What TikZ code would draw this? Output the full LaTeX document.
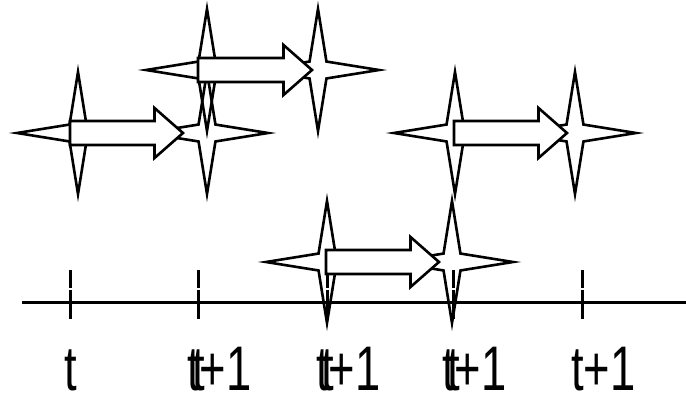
\documentclass[tikz,border=0pt]{standalone}
\usepackage{fontspec}
\setmainfont{Liberation Sans}
\usepackage{graphicx}
\usetikzlibrary{shapes.geometric,calc}
\tikzset{
  starshape/.style={star, star points=4, star point ratio=5.1, minimum size=122pt, inner sep=0pt, draw=black, line width=2.6pt},
  arrowshape/.style={draw=black, fill=white, line width=2.6pt, miter limit=20},
  axisline/.style={line width=3pt},
  tickline/.style={line width=3pt},
  lbl/.style={inner sep=0pt, font=\fontsize{63}{63}\selectfont},
}
\newcommand\blockarr[2]{%
  \draw[arrowshape] ($(#1)+(0,-12)$) -- ($(#2)+(-28.5,-12)$) -- ($(#2)+(-28.5,-25)$) -- (#2)
    -- ($(#2)+(-28.5,25)$) -- ($(#2)+(-28.5,12)$) -- ($(#1)+(0,12)$) -- cycle;}
\newcommand\lt[1]{\scalebox{0.72}[1]{#1}}
\begin{document}
\begin{tikzpicture}[x=1pt,y=-1pt]
\useasboundingbox (0,0) rectangle (686,392);
% axis
\coordinate (axl) at (22,302);
\coordinate (axr) at (686,302);
\draw[axisline] (axl) -- (axr);
% ticks
\foreach \n/\x in {1/70,2/198,3/327,4/453,5/582}{
  \coordinate (tk\n) at (\x,270);
  \draw[tickline] (tk\n) -- ++(0,18) ++(0,1.5) -- ++(0,29.5);
}
% labels
\node[lbl, anchor=base] (l1) at (71,390) {\lt{t}};
\foreach \n/\x in {2/198,3/327,4/453}{
  \node[lbl, anchor=base] (la\n) at (\x+1,390) {\lt{t}};
  \node[lbl, anchor=base west] (lb\n) at (\x-11,390) {\lt{t+1}};
}
\node[lbl, anchor=base west] (l5) at (571,390) {\lt{t+1}};
% stars
\node[starshape] (A) at (78,133) {};
\node[starshape] (B) at (207,133) {};
\node[starshape] (C) at (207,70) {};
\node[starshape] (D) at (318,70) {};
\node[starshape] (E) at (455,133) {};
\node[starshape] (F) at (575,133) {};
\node[starshape] (G) at (327,262) {};
\node[starshape] (H) at (452,262) {};
% arrows
\coordinate (as1) at ($(A.center)+(-8,0)$);
\coordinate (ae1) at ($(B.center)+(-24,0)$);
\coordinate (as2) at ($(C.center)+(-9,0)$);
\coordinate (ae2) at ($(D.center)+(-6,0)$);
\coordinate (as3) at ($(E.center)+(-1,0)$);
\coordinate (ae3) at ($(F.center)+(-8,0)$);
\coordinate (as4) at ($(G.center)+(-1,0)$);
\coordinate (ae4) at ($(H.center)+(-13,0)$);
\blockarr{as1}{ae1}
\blockarr{as2}{ae2}
\blockarr{as3}{ae3}
\blockarr{as4}{ae4}
\end{tikzpicture}
\end{document}
